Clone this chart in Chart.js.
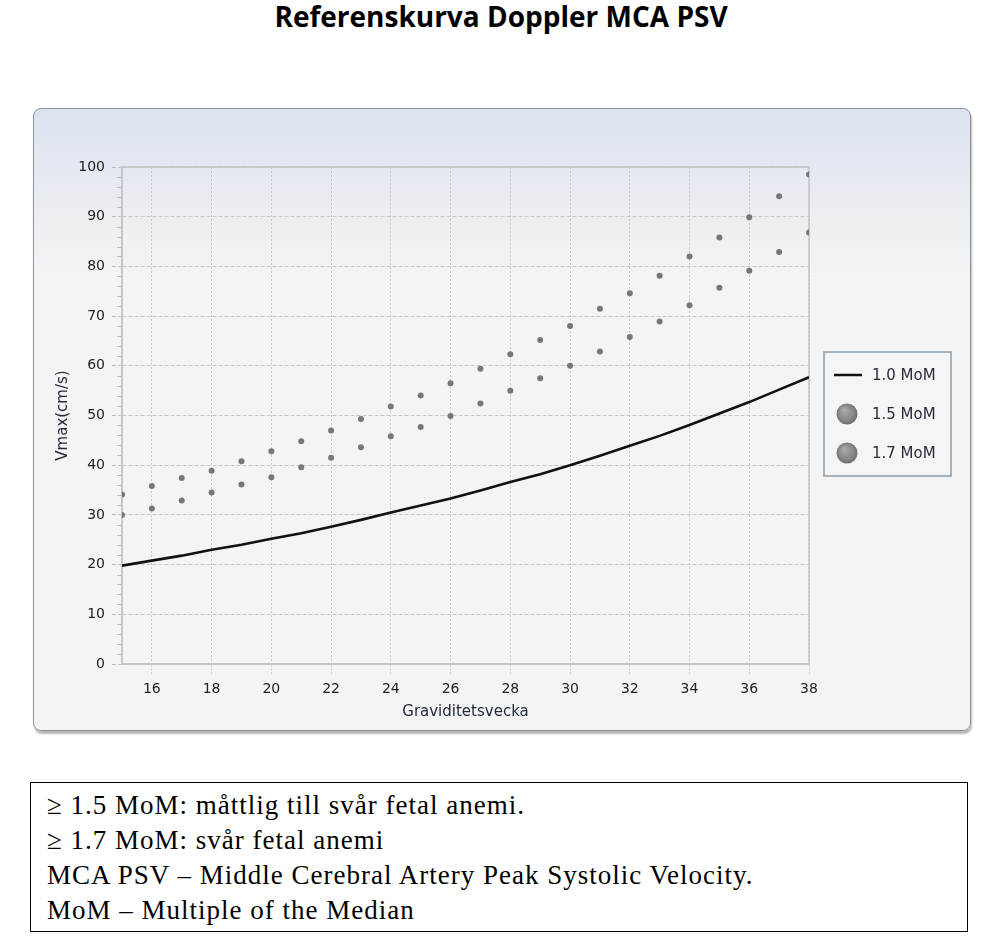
<!DOCTYPE html>
<html>
<head>
<meta charset="utf-8">
<script src="https://cdn.jsdelivr.net/npm/chart.js@4.4.1/dist/chart.umd.min.js"></script>
<style>
  html, body { margin: 0; padding: 0; background: #ffffff; }
  body { width: 993px; height: 936px; position: relative; overflow: hidden; }
  #title {
    position: absolute; left: 0; top: 1px; width: 1002px; text-align: center;
    font-family: "Open Sans", Lato, sans-serif; font-weight: bold; font-size: 28px;
    line-height: 31px; color: #000;
  }
  #panel {
    position: absolute; left: 33px; top: 108px; width: 936px; height: 621px;
    border: 1.5px solid #8a949f; border-radius: 8px;
    background: linear-gradient(to bottom, #dbe2ef 0px, #e8ebf1 80px, #f4f4f4 170px, #f4f4f4 100%);
    box-shadow: 1px 3px 2px rgba(0,0,0,0.28);
  }
  #chartwrap { position: absolute; left: 0; top: 0; width: 993px; height: 760px; }
  #notes {
    position: absolute; left: 30px; top: 782px; width: 905px; height: 130px;
    border: 1.5px solid #000; padding: 5px 15px 13px 16px;
    font-family: "Liberation Serif", "Times New Roman", serif; font-size: 27px;
    line-height: 35px; color: #000; letter-spacing: 1px;
  }
</style>
</head>
<body>
<div id="title">Referenskurva Doppler MCA PSV</div>
<div id="panel"></div>
<div id="chartwrap"><canvas id="c" width="993" height="760"></canvas></div>
<div id="notes">
  <div>≥ 1.5 MoM: måttlig till svår fetal anemi.</div>
  <div>≥ 1.7 MoM: svår fetal anemi</div>
  <div>MCA PSV – Middle Cerebral Artery Peak Systolic Velocity.</div>
  <div>MoM – Multiple of the Median</div>
</div>
<script>
// ---- data ----
const weeks = [15,16,17,18,19,20,21,22,23,24,25,26,27,28,29,30,31,32,33,34,35,36,37,38];
const mom10 = [19.8,20.8,21.8,23.0,24.0,25.2,26.3,27.6,29.0,30.5,31.9,33.3,34.9,36.6,38.2,40.0,41.9,43.9,45.9,48.1,50.4,52.7,55.2,57.7];
const mom15 = [30.0,31.3,32.9,34.5,36.1,37.6,39.6,41.5,43.6,45.8,47.7,49.9,52.4,55.0,57.5,60.0,62.9,65.8,68.9,72.2,75.7,79.1,82.9,86.8];
const mom17 = [34.1,35.8,37.4,38.9,40.8,42.8,44.8,47.0,49.3,51.8,54.0,56.5,59.4,62.3,65.2,68.0,71.5,74.6,78.1,82.0,85.8,89.9,94.1,98.5];
const seriesLabels = ['1.0 MoM', '1.5 MoM', '1.7 MoM'];
const xTickValues = [16,18,20,22,24,26,28,30,32,34,36,38];
const yMin = 0, yMax = 100, yStep = 10, yMinorStep = 2;
const xTitle = 'Graviditetsvecka';
const yTitle = 'Vmax(cm/s)';

const toXY = arr => arr.map((v, i) => ({ x: weeks[i], y: v }));

const FONT = '"DejaVu Sans", Verdana, sans-serif';
const GRID = '#c6c6c6';

const framePlugin = {
  id: 'frame',
  beforeDatasetsDraw(chart) {
    const { ctx, chartArea: a, scales } = chart;
    ctx.save();
    // minor y ticks
    ctx.strokeStyle = '#bdbdbd';
    ctx.lineWidth = 1;
    for (let v = yMin; v <= yMax; v += yMinorStep) {
      if (v % yStep === 0) continue;
      const y = Math.round(scales.y.getPixelForValue(v)) + 0.5;
      ctx.beginPath();
      ctx.moveTo(a.left - 5, y);
      ctx.lineTo(a.left, y);
      ctx.stroke();
    }
    // plot frame
    ctx.strokeStyle = '#c4c4c4';
    ctx.lineWidth = 1.5;
    ctx.strokeRect(a.left, a.top, a.right - a.left, a.bottom - a.top);
    ctx.restore();
  },
  afterDraw(chart) {
    const { ctx, chartArea: a } = chart;
    const ds = chart.data.datasets;
    const bx = a.right + 15, by = 352, bw = 127, bh = 124;
    ctx.save();
    ctx.fillStyle = '#f5f5f5';
    ctx.fillRect(bx, by, bw, bh);
    ctx.strokeStyle = '#8d9ba7';
    ctx.lineWidth = 1.5;
    ctx.strokeRect(bx, by, bw, bh);
    const rows = [by + 23, by + 62, by + 101];
    ctx.font = '15px ' + FONT;
    ctx.textBaseline = 'middle';
    ctx.textAlign = 'left';
    ds.forEach((d, i) => {
      const cy = rows[i];
      const cx = bx + 23;
      if (d.showLine) {
        ctx.strokeStyle = '#111';
        ctx.lineWidth = 2.5;
        ctx.beginPath();
        ctx.moveTo(bx + 10, cy);
        ctx.lineTo(bx + 38, cy);
        ctx.stroke();
      } else {
        const g = ctx.createRadialGradient(cx - 3, cy - 4, 1, cx, cy, 11);
        g.addColorStop(0, '#a8a8a8');
        g.addColorStop(0.7, '#858585');
        g.addColorStop(1, '#6a6a6a');
        ctx.fillStyle = g;
        ctx.beginPath();
        ctx.arc(cx, cy, 10.5, 0, Math.PI * 2);
        ctx.fill();
      }
      ctx.fillStyle = '#2a2a3c';
      ctx.fillText(d.label, bx + 48, cy + 1);
    });
    ctx.restore();
  }
};

new Chart(document.getElementById('c'), {
  type: 'scatter',
  data: {
    datasets: [
      {
        label: seriesLabels[0], data: toXY(mom10), showLine: true,
        borderColor: '#111111', borderWidth: 2.6, pointRadius: 0, tension: 0, order: 0
      },
      {
        label: seriesLabels[1], data: toXY(mom15), showLine: false,
        backgroundColor: '#777777', borderWidth: 0, pointRadius: 3, order: 1
      },
      {
        label: seriesLabels[2], data: toXY(mom17), showLine: false,
        backgroundColor: '#777777', borderWidth: 0, pointRadius: 3, order: 2
      }
    ]
  },
  options: {
    responsive: false,
    animation: false,
    events: [],
    layout: { padding: { left: 40, top: 167, right: 184, bottom: 36 } },
    plugins: { legend: { display: false }, tooltip: { enabled: false }, title: { display: false } },
    scales: {
      x: {
        type: 'linear', min: weeks[0], max: weeks[weeks.length - 1],
        afterBuildTicks(scale) { scale.ticks = xTickValues.map(v => ({ value: v })); },
        afterFit(scale) { scale.height = 60; },
        grid: {
          color: GRID, lineWidth: 1, tickLength: 10,
          tickColor: GRID, tickBorderDash: [2, 2], drawTicks: true
        },
        border: { display: true, color: '#c4c4c4', width: 1.5, dash: [2, 2] },
        ticks: { font: { family: FONT, size: 14 }, color: '#222', padding: 7, maxRotation: 0, autoSkip: false },
        title: { display: true, text: xTitle, font: { family: FONT, size: 15 }, color: '#222a3a', padding: { top: 0, bottom: 3 } }
      },
      y: {
        min: yMin, max: yMax,
        afterFit(scale) { scale.width = 82; },
        grid: {
          color: GRID, lineWidth: 1, tickLength: 10,
          tickColor: '#bdbdbd', drawTicks: true, tickBorderDash: [4, 2]
        },
        border: { display: true, color: '#c4c4c4', width: 1.5, dash: [4, 2] },
        ticks: { stepSize: yStep, font: { family: FONT, size: 14 }, color: '#222', padding: 7 },
        title: { display: true, text: yTitle, font: { family: FONT, size: 15 }, color: '#222a3a', padding: { top: 14, bottom: 0 } }
      }
    }
  },
  plugins: [framePlugin]
});
</script>
</body>
</html>
